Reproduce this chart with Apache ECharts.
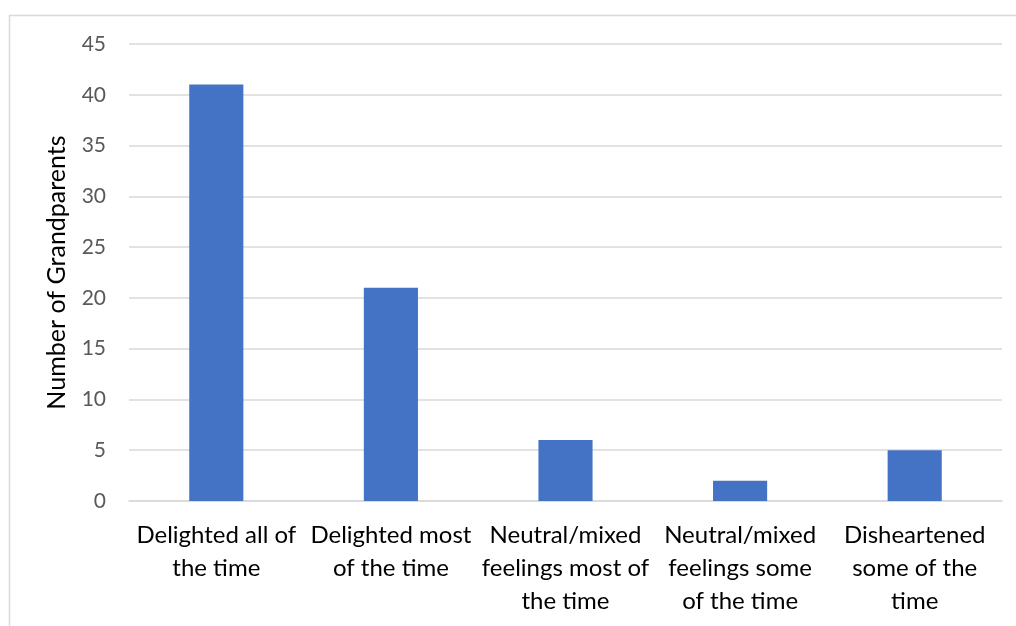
<!DOCTYPE html>
<html>
<head>
<meta charset="utf-8">
<script src="https://cdn.jsdelivr.net/npm/echarts@6/dist/echarts.min.js"></script>
<style>
  html, body { margin: 0; padding: 0; background: #ffffff; }
  #chart { width: 1016px; height: 626px; }
</style>
</head>
<body>
<div id="chart"></div>
<script>
// Survey responses: how grandparents feel
const categories = [
  'Delighted all of\nthe time',
  'Delighted most\nof the time',
  'Neutral/mixed\nfeelings most of\nthe time',
  'Neutral/mixed\nfeelings some\nof the time',
  'Disheartened\nsome of the\ntime'
];
const counts = [41, 21, 6, 2, 5];
const yTicks = { min: 0, max: 45, step: 5 };
const yAxisTitle = 'Number of Grandparents';

const FONT = 'Lato, "Open Sans", sans-serif';

const chart = echarts.init(document.getElementById('chart'), null, { renderer: 'canvas' });
chart.setOption({
  animation: false,
  backgroundColor: '#ffffff',
  graphic: [{
    type: 'rect',
    shape: { x: 9.5, y: 15.5, width: 1200, height: 800 },
    style: { fill: 'none', stroke: '#d9d9d9', lineWidth: 1.5 },
    silent: true,
    z: -10
  }],
  grid: { left: 129, right: 14, top: 44, bottom: 125, containLabel: false },
  xAxis: {
    type: 'category',
    data: categories,
    axisLine: { show: true, lineStyle: { color: '#d9d9d9', width: 1.5 } },
    axisTick: { show: false },
    axisLabel: {
      interval: 0,
      margin: 18,
      color: '#000000',
      fontFamily: FONT,
      fontSize: 24,
      lineHeight: 33,
      align: 'center'
    }
  },
  yAxis: {
    type: 'value',
    min: yTicks.min,
    max: yTicks.max,
    interval: yTicks.step,
    name: yAxisTitle,
    nameLocation: 'middle',
    nameRotate: 90,
    nameGap: 60,
    nameTextStyle: { color: '#000000', fontFamily: FONT, fontSize: 25 },
    axisLine: { show: false },
    axisTick: { show: false },
    splitLine: { lineStyle: { color: '#d9d9d9', width: 1.5 } },
    axisLabel: { color: '#595959', fontFamily: FONT, fontSize: 21, margin: 23 }
  },
  series: [{
    type: 'bar',
    data: counts,
    barWidth: '31%',
    itemStyle: { color: '#4472C4' }
  }]
});
</script>
</body>
</html>
